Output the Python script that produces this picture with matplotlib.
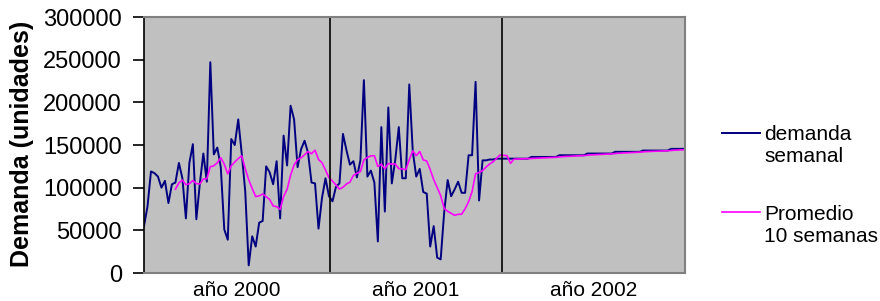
import numpy as np
import pandas as pd
import matplotlib
matplotlib.use("Agg")
import matplotlib.pyplot as plt
from matplotlib.lines import Line2D

plt.rcParams['font.family'] = ['Liberation Sans', 'DejaVu Sans']

# weekly demand (units)
y2000 = [55000, 78000, 119000, 117000, 113000, 100000, 108000, 82000, 104000, 106000,
         129000, 111000, 64000, 129000, 151000, 63000, 105000, 140000, 107000, 247000,
         139000, 147000, 124000, 51000, 39000, 157000, 150000, 180000, 140000, 96000,
         9000, 43000, 31000, 59000, 61000, 125000, 118000, 104000, 131000, 64000,
         161000, 126000, 196000, 180000, 124000, 145000, 155000, 141000, 106000, 105000,
         52000, 88000, 111000]
y2001 = [90000, 84000, 101000, 105000, 163000, 144000, 127000, 131000, 112000, 132000,
         226000, 113000, 120000, 106000, 37000, 171000, 72000, 194000, 105000, 133000,
         171000, 111000, 111000, 221000, 143000, 113000, 122000, 95000, 93000, 31000,
         55000, 18000, 16000, 71000, 109000, 90000, 98000, 107000, 94000, 94000,
         138000, 138000, 224000, 85000, 132000, 132000, 133000, 133000, 134000, 134000]
y2002 = [134000, 134000, 134000, 134000, 134000, 134000, 134000, 134000,
         136000, 136000, 136000, 136000, 136000, 136000, 136000, 136000,
         138000, 138000, 138000, 138000, 138000, 138000, 138000, 138000,
         140000, 140000, 140000, 140000, 140000, 140000, 140000, 140000,
         142000, 142000, 142000, 142000, 142000, 142000, 142000, 142000,
         143500, 143500, 143500, 143500, 143500, 143500, 143500, 143500,
         145500, 145500, 145500, 145500, 145500]
years = ['año 2000', 'año 2001', 'año 2002']
year_breaks = [53.3, 102.6]   # week position of the year separators

demanda = pd.Series(y2000 + y2001 + y2002)
promedio = demanda.rolling(10).mean()
semanas = np.arange(len(demanda))

fig = plt.figure(figsize=(8.8, 3.01), dpi=100)
ax = fig.add_axes([144/880, 28/301, 541/880, 256/301])
ax.set_facecolor('#c0c0c0')

ax.plot(semanas, demanda, color='#000080', lw=1.4)
ax.plot(semanas, promedio, color='#ff00ff', lw=1.2)

for b in year_breaks:
    ax.axvline(b, color='black', lw=1.2)

ax.set_xlim(0, len(demanda) - 1)
ax.set_ylim(0, 300000)
ax.set_yticks(np.arange(0, 300001, 50000))
ax.tick_params(axis='y', direction='out', length=8, width=1.2, labelsize=17, pad=8)
ax.set_xticks([])

edges = [0] + year_breaks + [len(demanda) - 1]
for i, lab in enumerate(years):
    ax.text((edges[i] + edges[i + 1]) / 2, -0.068, lab, transform=ax.get_xaxis_transform(),
            ha='center', va='center', fontsize=15)

ax.set_ylabel('Demanda (unidades)', fontsize=18, fontweight='bold')
ax.yaxis.set_label_coords(-0.204, 0.505)

for s in ['top', 'right', 'bottom']:
    ax.spines[s].set_color('#808080')
    ax.spines[s].set_linewidth(1.5)
ax.spines['left'].set_color('black')
ax.spines['left'].set_linewidth(1.2)

# legend drawn by hand (handle aligned with first text line)
W, H = 880, 301
fig.add_artist(Line2D([722/W, 760/W], [1 - 133/H, 1 - 133/H], color='#000080', lw=1.4))
fig.add_artist(Line2D([722/W, 760/W], [1 - 212/H, 1 - 212/H], color='#ff00ff', lw=1.2))
fig.text(764/W, 1 - 135/H, 'demanda', fontsize=15, va='center')
fig.text(764/W, 1 - 157/H, 'semanal', fontsize=15, va='center')
fig.text(764/W, 1 - 214/H, 'Promedio', fontsize=15, va='center')
fig.text(764/W, 1 - 236/H, '10 semanas', fontsize=15, va='center')

fig.savefig('out.png', dpi=100)
